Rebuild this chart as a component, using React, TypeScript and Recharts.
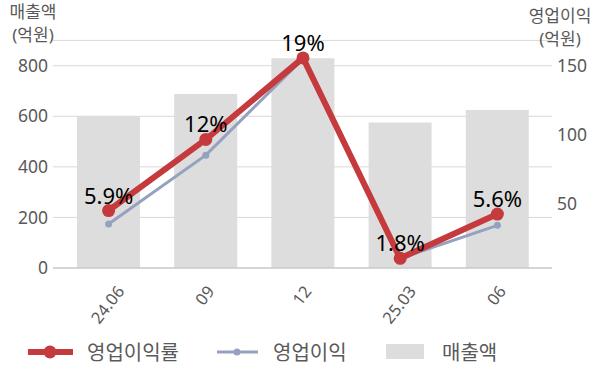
import React from 'react';
import { ComposedChart, Bar, Line, XAxis, YAxis, CartesianGrid, LabelList, Label } from 'recharts';

const categories = ['24.06', '09', '12', '25.03', '06'];
const revenue = [600, 688, 829, 575, 625];
const opProfit = [35, 85, 155, 10, 34];
const opMargin = [5.9, 12, 19, 1.8, 5.6];
const leftTicks = [0, 200, 400, 600, 800];
const rightTicks = [50, 100, 150];

const RED = '#C53A3C';
const BLUE = '#95A1BF';
const BAR = '#DDDDDD';
const TXT = '#595959';
const FONT = '"Noto Sans", "Noto Sans CJK KR", sans-serif';

const legendItems = [
  { name: '영업이익률', kind: 'bigline', color: RED },
  { name: '영업이익', kind: 'line', color: BLUE },
  { name: '매출액', kind: 'rect', color: BAR },
];

const data = categories.map((c, i) => ({
  cat: c,
  revenue: revenue[i],
  profit: opProfit[i],
  margin: opMargin[i],
}));

const XTick = (props: any) => {
  const { x, y, payload } = props;
  const s = String(payload.value);
  const fs = 16.5;
  const ang = 52;
  const rad = (ang * Math.PI) / 180;
  let L = 0;
  for (const ch of s) L += ch === '.' ? 0.27 * fs : 0.572 * fs;
  const h = 0.714 * fs;
  const bh = L * Math.sin(rad) + h * Math.cos(rad);
  const cy = y + 8 + bh / 2;
  const cx = x - 1.5;
  return (
    <text
      x={cx}
      y={cy}
      textAnchor="middle"
      dominantBaseline="central"
      transform={`rotate(${-ang}, ${cx}, ${cy})`}
      fontSize={fs}
      fill={TXT}
      fontFamily={FONT}
    >
      {s}
    </text>
  );
};

const LeftTitle = () => (
  <g>
    <text x={33} y={11} textAnchor="middle" dominantBaseline="central" fontSize={17} fill={TXT} fontFamily={FONT}>매출액</text>
    <text x={33} y={34} textAnchor="middle" dominantBaseline="central" fontSize={17} fill={TXT} fontFamily={FONT}>(억원)</text>
  </g>
);

const RightTitle = () => (
  <g>
    <text x={560} y={15} textAnchor="middle" dominantBaseline="central" fontSize={17} fill={TXT} fontFamily={FONT}>영업이익</text>
    <text x={560} y={38} textAnchor="middle" dominantBaseline="central" fontSize={17} fill={TXT} fontFamily={FONT}>(억원)</text>
  </g>
);

const LegendSvg = () => {
  const pos = [28, 217, 386];
  const textX = [87, 273, 442];
  const yc = 352;
  return (
    <svg width={600} height={60} style={{ position: 'absolute', left: 0, top: 0, overflow: 'visible' }}>
      {legendItems.map((it, i) => (
        <g key={it.name}>
          {it.kind === 'bigline' && (
            <g>
              <line x1={pos[i]} x2={pos[i] + 45} y1={yc} y2={yc} stroke={it.color} strokeWidth={6} />
              <circle cx={pos[i] + 22} cy={yc} r={6.5} fill={it.color} />
            </g>
          )}
          {it.kind === 'line' && (
            <g>
              <line x1={pos[i]} x2={pos[i] + 41} y1={yc} y2={yc} stroke={it.color} strokeWidth={3} />
              <circle cx={pos[i] + 20} cy={yc} r={3.5} fill={it.color} />
            </g>
          )}
          {it.kind === 'rect' && (
            <rect x={pos[i]} y={yc - 8} width={38} height={15} fill={it.color} />
          )}
          <text x={textX[i]} y={yc} dominantBaseline="central" fontSize={20} fill={TXT} fontFamily={FONT}>
            {it.name}
          </text>
        </g>
      ))}
    </svg>
  );
};

export default function App() {
  return (
    <div style={{ position: 'absolute', left: 0, top: 0, width: 600, height: 383, fontFamily: FONT, background: '#fff' }}>
      <ComposedChart
        width={600}
        height={383}
        data={data}
        margin={{ top: 40.4, right: 8, bottom: 55, left: 8 }}
      >
        <CartesianGrid yAxisId="left" vertical={false} stroke="#D9D9D9" strokeWidth={1} />
        <XAxis
          dataKey="cat"
          xAxisId={0}
          height={60}
          tick={<XTick />}
          tickLine={false}
          axisLine={{ stroke: '#BFBFBF', strokeWidth: 1 }}
          padding={{ left: 7, right: 6 }}
          interval={0}
        />
        <YAxis
          yAxisId="left"
          orientation="left"
          width={45}
          domain={[0, 900]}
          ticks={leftTicks}
          tickLine={false}
          axisLine={false}
          tickSize={0}
          tickMargin={5}
          tick={{ fontSize: 17.5, fill: TXT, fontFamily: FONT }}
          allowDataOverflow
        >
          <Label content={<LeftTitle />} />
        </YAxis>
        <YAxis
          yAxisId="right"
          orientation="right"
          width={40}
          domain={[3, 168.4]}
          ticks={rightTicks}
          tickLine={false}
          axisLine={false}
          tickSize={0}
          tickMargin={5}
          tick={{ fontSize: 17.5, fill: TXT, fontFamily: FONT, textAnchor: 'start' }}
          allowDataOverflow
        >
          <Label content={<RightTitle />} />
        </YAxis>
        <YAxis yAxisId="pct" hide domain={[0.97, 20.5]} allowDataOverflow />
        <Bar yAxisId="left" dataKey="revenue" fill={BAR} barSize={63} isAnimationActive={false} />
        <Line
          yAxisId="right"
          dataKey="profit"
          stroke={BLUE}
          strokeWidth={3}
          dot={{ r: 3.5, fill: BLUE, stroke: BLUE, strokeWidth: 0 }}
          activeDot={false}
          isAnimationActive={false}
        />
        <Line
          yAxisId="pct"
          dataKey="margin"
          stroke={RED}
          strokeWidth={6}
          dot={{ r: 6.5, fill: RED, stroke: RED, strokeWidth: 0 }}
          activeDot={false}
          isAnimationActive={false}
        >
          <LabelList
            dataKey="margin"
            position="top"
            offset={7}
            formatter={(v: any) => `${v}%`}
            style={{ fontSize: 22, fill: '#000', fontFamily: FONT }}
          />
        </Line>
      </ComposedChart>
      <LegendSvg />
    </div>
  );
}
